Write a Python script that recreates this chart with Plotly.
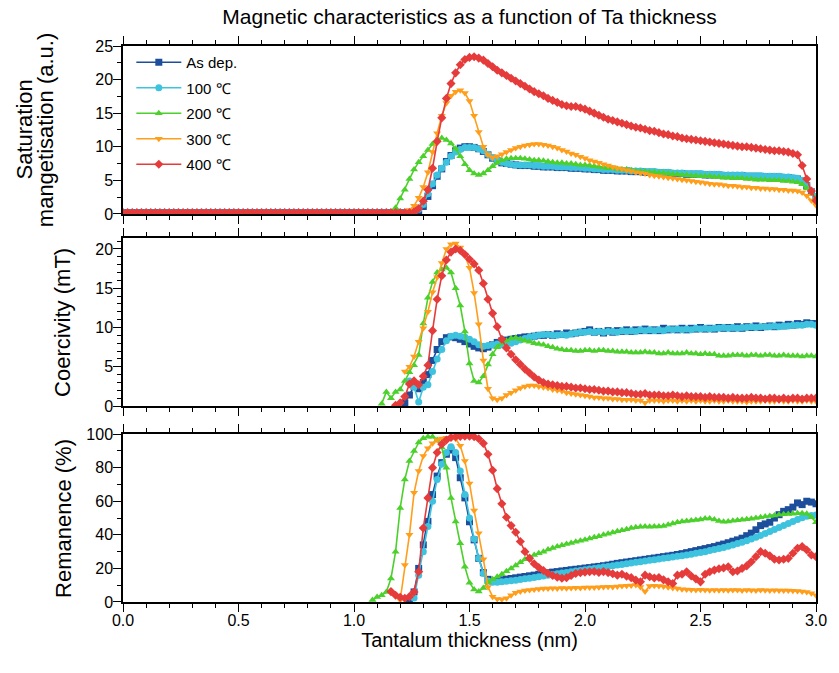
import plotly.graph_objects as go

# ---------------- data ----------------
thickness = [round(0.02 * i, 2) for i in range(151)]  # nm, 0.00 ... 3.00

series_names = ["As dep.", "100 ℃", "200 ℃", "300 ℃", "400 ℃"]
colors = ["#1D4E9B", "#3EC3DF", "#4CD02C", "#FF9E1B", "#E63B3B"]
symbols = ["square", "circle", "triangle-up", "triangle-down", "diamond"]

# Saturation magnetisation (a.u.), 0.00-0.98 nm flat baseline shared by all samples
ms_baseline = [0.2, 0.2, 0.2, 0.2, 0.2, 0.2, 0.2, 0.2, 0.2, 0.2,
               0.2, 0.2, 0.2, 0.2, 0.2, 0.2, 0.2, 0.2, 0.2, 0.2,
               0.2, 0.2, 0.2, 0.2, 0.2, 0.2, 0.2, 0.2, 0.2, 0.2,
               0.2, 0.2, 0.2, 0.2, 0.2, 0.2, 0.2, 0.2, 0.2, 0.2,
               0.2, 0.2, 0.2, 0.2, 0.2, 0.2, 0.2, 0.2, 0.2, 0.2]
# 1.00 ... 3.00 nm
ms_asdep = [0.2, 0.2, 0.2, 0.2, 0.2, 0.2, 0.2, 0.2, 0.2, 0.2,
            0.2, 0.2, 0.2, 0.2, 0.5, 1.1, 2.6, 4.2, 5.6, 6.7,
            7.8, 8.7, 9.4, 9.8, 10.0, 10.0, 9.9, 9.7, 9.3, 8.8,
            8.3, 7.9, 7.6, 7.5, 7.4, 7.3, 7.2, 7.2, 7.2, 7.1,
            7.1, 7.0, 7.0, 7.0, 6.9, 6.9, 6.9, 6.8, 6.8, 6.8,
            6.7, 6.7, 6.6, 6.6, 6.5, 6.5, 6.5, 6.4, 6.4, 6.4,
            6.3, 6.3, 6.3, 6.2, 6.2, 6.2, 6.1, 6.1, 6.1, 6.0,
            6.0, 6.0, 5.9, 5.9, 5.9, 5.9, 5.8, 5.8, 5.8, 5.8,
            5.7, 5.7, 5.7, 5.7, 5.7, 5.6, 5.6, 5.6, 5.6, 5.5,
            5.5, 5.5, 5.5, 5.4, 5.4, 5.3, 5.2, 4.9, 4.2, 3.3,
            2.5]
ms_100 = [0.2, 0.2, 0.2, 0.2, 0.2, 0.2, 0.2, 0.2, 0.2, 0.2,
          0.2, 0.2, 0.2, 0.3, 0.7, 1.4, 3.0, 4.5, 5.8, 6.8,
          7.7, 8.6, 9.2, 9.6, 9.9, 9.9, 9.9, 9.7, 9.4, 8.9,
          8.4, 8.0, 7.7, 7.5, 7.4, 7.3, 7.3, 7.3, 7.3, 7.2,
          7.2, 7.1, 7.1, 7.1, 7.0, 7.0, 7.0, 6.9, 6.9, 6.9,
          6.8, 6.8, 6.7, 6.7, 6.6, 6.6, 6.6, 6.5, 6.5, 6.5,
          6.4, 6.4, 6.4, 6.3, 6.3, 6.3, 6.2, 6.2, 6.2, 6.1,
          6.1, 6.1, 6.0, 6.0, 6.0, 6.0, 5.9, 5.9, 5.9, 5.9,
          5.8, 5.8, 5.8, 5.8, 5.8, 5.7, 5.7, 5.7, 5.7, 5.6,
          5.6, 5.6, 5.6, 5.5, 5.5, 5.4, 5.3, 5.0, 4.3, 3.4,
          2.6]
ms_200 = [0.2, 0.2, 0.2, 0.2, 0.2, 0.2, 0.2, 0.2, 0.3, 0.9,
          2.3, 3.6, 5.2, 6.6, 7.7, 8.6, 9.5, 10.4, 11.0, 11.3,
          11.0, 10.5, 9.7, 8.6, 7.4, 6.5, 6.0, 5.8, 6.0, 6.5,
          7.1, 7.6, 8.0, 8.2, 8.3, 8.3, 8.3, 8.2, 8.1, 8.0,
          8.0, 7.9, 7.8, 7.7, 7.6, 7.6, 7.5, 7.5, 7.4, 7.3,
          7.3, 7.2, 7.1, 7.0, 6.9, 6.8, 6.8, 6.7, 6.6, 6.6,
          6.5, 6.4, 6.3, 6.3, 6.2, 6.2, 6.1, 6.1, 6.0, 5.9,
          5.9, 5.8, 5.8, 5.7, 5.7, 5.6, 5.6, 5.6, 5.5, 5.5,
          5.4, 5.4, 5.3, 5.3, 5.3, 5.2, 5.2, 5.1, 5.1, 5.1,
          5.0, 5.0, 5.0, 4.9, 4.9, 4.8, 4.7, 4.4, 3.8, 3.0,
          2.3]
ms_300 = [0.2, 0.2, 0.2, 0.2, 0.2, 0.2, 0.2, 0.2, 0.2, 0.2,
          0.2, 0.3, 0.6, 1.2, 2.4, 4.0, 6.2, 9.2, 12.0, 14.6,
          16.5, 17.6, 18.2, 18.4, 18.0, 16.8, 14.6, 12.2, 10.0, 8.8,
          8.4, 8.6, 8.9, 9.2, 9.5, 9.8, 10.0, 10.2, 10.3, 10.4,
          10.4, 10.3, 10.2, 10.0, 9.8, 9.5, 9.3, 9.0, 8.8, 8.5,
          8.3, 8.0, 7.8, 7.6, 7.4, 7.2, 7.0, 6.8, 6.7, 6.5,
          6.4, 6.2, 6.1, 6.0, 5.8, 5.7, 5.6, 5.5, 5.4, 5.3,
          5.2, 5.1, 5.0, 4.9, 4.8, 4.7, 4.6, 4.5, 4.4, 4.4,
          4.3, 4.2, 4.2, 4.1, 4.0, 4.0, 3.9, 3.9, 3.8, 3.8,
          3.7, 3.7, 3.6, 3.6, 3.5, 3.5, 3.4, 3.2, 2.7, 2.0,
          1.3]
ms_400 = [0.2, 0.2, 0.2, 0.2, 0.2, 0.2, 0.2, 0.2, 0.2, 0.2,
          0.2, 0.2, 0.2, 0.3, 0.8, 1.9, 3.6, 6.8, 10.8, 14.3,
          17.2, 19.4, 21.0, 22.2, 23.0, 23.3, 23.4, 23.2, 22.9, 22.4,
          21.9, 21.4, 21.0, 20.6, 20.2, 19.8, 19.4, 19.0, 18.6, 18.2,
          17.9, 17.6, 17.2, 16.9, 16.6, 16.3, 16.1, 16.0, 16.0, 15.8,
          15.6, 15.3, 15.0, 14.7, 14.4, 14.1, 13.9, 13.7, 13.5, 13.3,
          13.1, 12.9, 12.8, 12.6, 12.4, 12.3, 12.1, 11.9, 11.8, 11.6,
          11.5, 11.3, 11.2, 11.1, 11.0, 10.9, 10.8, 10.7, 10.6, 10.5,
          10.4, 10.3, 10.2, 10.1, 10.0, 10.0, 9.9, 9.8, 9.7, 9.6,
          9.5, 9.4, 9.4, 9.3, 9.2, 9.0, 8.8, 7.2, 5.2, 3.4,
          2.0]

# Coercivity (mT); each list ends at 3.00 nm
hc_asdep = [0.4, 1.4, 2.5, 2.2, 3.0, 4.0, 5.8, 7.2, 8.2,            # from 1.22
            8.7, 8.8, 8.7, 8.5, 8.2, 7.9, 7.6, 7.4, 7.3, 7.5,
            7.8, 8.1, 8.3, 8.4, 8.5, 8.6, 8.7, 8.8, 8.8, 8.9,
            9.0, 9.0, 9.1, 9.0, 9.2, 9.1, 9.3, 9.2, 9.3, 9.4,
            9.5, 9.7, 9.4, 9.5, 9.3, 9.6, 9.4, 9.6, 9.5, 9.7,
            9.5, 9.7, 9.6, 9.8, 9.6, 9.7, 9.6, 9.9, 9.7, 9.8,
            9.7, 9.9, 9.7, 9.9, 9.8, 10.0, 9.8, 9.9, 9.8, 10.0,
            9.9, 10.0, 9.9, 10.1, 9.9, 10.1, 10.0, 10.2, 10.0, 10.1,
            10.2, 10.1, 10.3, 10.2, 10.4, 10.3, 10.5, 10.4, 10.6, 10.5,
            10.5]
hc_100 = [3.2, 2.4, 0.5, 2.4, 2.7, 4.4, 6.0, 7.2,                     # from 1.24
          8.3, 8.9, 9.0, 8.9, 8.8, 8.5, 8.2, 7.8, 7.6, 7.7,
          7.8, 7.9, 7.8, 7.9, 8.0, 8.2, 8.4, 8.6, 8.8, 8.9,
          9.0, 9.1, 9.1, 9.0, 9.0, 9.1, 9.0, 9.2, 9.3, 9.4,
          9.4, 9.5, 9.4, 9.5, 9.4, 9.5, 9.5, 9.4, 9.6, 9.5,
          9.6, 9.5, 9.7, 9.6, 9.7, 9.6, 9.7, 9.6, 9.8, 9.7,
          9.8, 9.7, 9.8, 9.7, 9.9, 9.8, 9.9, 9.8, 9.9, 9.9,
          10.0, 9.9, 10.0, 9.9, 10.0, 10.0, 10.1, 10.0, 10.1, 10.1,
          10.1, 10.2, 10.1, 10.2, 10.2, 10.3, 10.3, 10.3, 10.4, 10.4,
          10.3]
hc_200 = [0.3, 1.8, 1.0, 1.8,                                         # from 1.12
          2.1, 3.2, 4.3, 5.2, 6.5, 10.5, 13.8, 15.8, 17.0, 17.4,
          17.6, 17.0, 15.0, 12.8, 9.5, 5.4, 3.2, 3.0, 3.8, 5.3,
          6.6, 7.5, 8.0, 8.3, 8.6, 8.7, 8.5, 8.3, 8.2, 8.0,
          7.9, 7.8, 7.6, 7.5, 7.3, 7.2, 7.1, 7.1, 7.0, 7.0,
          7.1, 7.1, 7.0, 7.1, 7.1, 7.0, 7.0, 6.9, 6.9, 6.9,
          6.8, 6.8, 6.8, 6.9, 6.8, 6.8, 6.7, 6.7, 6.8, 6.7,
          6.7, 6.7, 6.8, 6.7, 6.7, 6.6, 6.7, 6.6, 6.6, 6.4,
          6.4, 6.4, 6.5, 6.5, 6.5, 6.4, 6.5, 6.5, 6.4, 6.5,
          6.5, 6.4, 6.4, 6.5, 6.4, 6.4, 6.4, 6.3, 6.4, 6.4,
          6.3]
hc_300 = [4.4, 5.0, 6.3, 8.2, 9.9, 12.0, 14.5, 16.4, 18.2,           # from 1.22
          20.0, 20.6, 20.7, 20.2, 19.2, 17.6, 14.4, 10.4, 5.8, 2.2,
          1.0, 0.8, 1.0, 1.4, 1.7, 2.0, 2.3, 2.5, 2.6, 2.6,
          2.5, 2.4, 2.3, 2.1, 2.0, 1.9, 1.7, 1.6, 1.5, 1.4,
          1.3, 1.2, 1.1, 1.1, 1.0, 1.0, 0.9, 0.9, 0.8, 0.8,
          0.8, 0.7, 0.7, 0.4, 0.7, 0.7, 0.7, 0.6, 0.7, 0.7,
          0.6, 0.7, 0.6, 0.7, 0.6, 0.7, 0.6, 0.6, 0.7, 0.6,
          0.6, 0.7, 0.6, 0.6, 0.6, 0.5, 0.6, 0.6, 0.6, 0.7,
          0.6, 0.6, 0.7, 0.6, 0.6, 0.7, 0.6, 0.6, 0.7, 0.6,
          0.6]
hc_400 = [0.1,                                                        # from 1.18
          0.4, 1.2, 2.8, 3.2, 2.7, 3.8, 5.2, 9.6, 13.6, 16.6,
          18.6, 19.6, 20.0, 19.8, 19.3, 18.7, 18.1, 17.3, 15.6, 13.6,
          11.8, 10.1, 8.5, 7.4, 6.6, 5.9, 5.3, 4.7, 4.2, 3.7,
          3.3, 3.0, 2.8, 2.7, 2.6, 2.5, 2.5, 2.4, 2.3, 2.3,
          2.2, 2.1, 2.1, 2.0, 1.9, 1.9, 1.8, 1.8, 1.7, 1.7,
          1.6, 1.5, 1.5, 1.6, 1.4, 1.4, 1.4, 1.3, 1.3, 1.4,
          1.3, 1.2, 1.3, 1.2, 1.2, 1.2, 1.1, 1.2, 1.1, 1.1,
          1.1, 1.0, 1.1, 1.0, 1.0, 1.0, 1.1, 1.0, 1.0, 0.9,
          1.0, 1.0, 0.9, 1.0, 0.9, 1.0, 1.0, 0.9, 1.0, 1.0,
          1.0]

# Remanence (%); each list ends at 3.00 nm
mr_asdep = [1.0, 6.0, 20.0, 34.0, 48.0, 64.0, 75.0, 83.0,             # from 1.24
            88.0, 90.5, 86.0, 74.0, 62.0, 47.8, 37.0, 26.0, 17.5, 13.5,
            12.5, 12.8, 13.2, 13.6, 14.0, 14.4, 14.8, 15.2, 15.6, 16.0,
            16.5, 17.0, 17.4, 17.8, 18.1, 18.5, 18.8, 19.2, 19.5, 19.8,
            20.2, 20.5, 20.9, 21.2, 21.6, 22.0, 22.5, 23.0, 23.4, 23.8,
            24.2, 24.6, 25.0, 25.4, 25.8, 26.2, 26.6, 27.0, 27.4, 27.8,
            28.3, 28.8, 29.4, 30.0, 30.6, 31.2, 31.8, 32.4, 33.0, 33.8,
            34.5, 35.3, 36.2, 37.0, 38.0, 39.5, 41.0, 43.0, 45.5, 46.5,
            47.5, 50.0, 52.0, 54.0, 55.0, 56.5, 59.0, 58.0, 60.0, 59.5,
            58.5]
mr_100 = [2.4, 16.0, 30.0, 45.0, 60.0, 73.0, 82.0,                    # from 1.26
          89.0, 92.5, 89.0, 78.0, 64.0, 50.0, 37.5, 26.0, 17.0, 12.5,
          11.8, 11.8, 12.0, 12.3, 12.6, 13.0, 13.4, 13.8, 14.2, 14.6,
          15.0, 15.5, 16.0, 16.4, 16.8, 17.2, 17.6, 18.0, 18.4, 18.8,
          19.2, 19.6, 20.0, 20.4, 20.8, 21.2, 21.6, 22.0, 22.4, 22.8,
          23.2, 23.6, 24.0, 24.4, 24.8, 25.2, 25.6, 26.0, 26.4, 26.8,
          27.2, 27.6, 28.0, 28.5, 29.0, 29.5, 30.0, 30.6, 31.2, 31.8,
          32.5, 33.2, 34.0, 34.8, 35.6, 36.5, 37.5, 38.5, 39.6, 40.8,
          42.0, 43.2, 44.4, 45.6, 46.8, 48.0, 49.2, 50.2, 51.0, 51.5,
          51.8]
mr_200 = [1.2, 3.0, 4.0, 6.0, 14.0, 30.0,                             # from 1.08
          56.0, 73.0, 84.0, 90.0, 95.0, 97.5, 98.4, 98.4, 96.5, 92.0,
          80.0, 62.0, 48.0, 35.0, 21.0, 11.5, 7.5, 6.3, 8.3, 11.8,
          13.6, 15.0, 16.6, 18.3, 20.0, 21.8, 23.6, 25.4, 26.8, 28.0,
          29.0, 30.0, 31.2, 32.2, 33.0, 33.8, 34.5, 35.2, 35.9, 36.5,
          37.1, 37.8, 38.5, 39.2, 40.0, 40.7, 41.4, 42.1, 42.8, 43.4,
          44.0, 44.5, 44.8, 44.9, 44.8, 44.9, 45.0, 45.3, 46.0, 46.8,
          47.5, 47.9, 48.3, 48.5, 48.8, 49.2, 49.8, 49.7, 49.2, 48.3,
          47.8, 48.0, 48.4, 48.7, 49.0, 49.3, 49.6, 50.0, 50.5, 50.9,
          51.2, 51.5, 51.9, 52.2, 52.4, 52.6, 52.8, 52.9, 52.5, 50.5,
          47.5]
mr_300 = [1.2, 22.0, 40.0, 65.0, 78.0, 87.0, 91.5, 94.5, 96.5, 97.4,  # from 1.20
          97.8, 97.8, 97.2, 93.0, 84.0, 70.6, 54.5, 41.0, 25.5, 9.0,
          3.2, 1.8, 1.6, 2.2, 4.0, 5.5, 6.3, 6.9, 7.2, 7.5,
          7.8, 8.0, 8.0, 8.2, 8.1, 8.3, 8.2, 8.4, 8.5, 8.4,
          8.6, 8.7, 8.6, 8.8, 8.9, 9.1, 9.0, 9.3, 9.5, 9.7,
          9.9, 10.1, 9.0, 6.2, 9.6, 9.7, 9.5, 9.2, 8.8, 8.4,
          8.0, 7.6, 7.4, 7.3, 7.2, 7.3, 7.1, 7.0, 7.2, 7.0,
          7.1, 7.0, 7.2, 7.1, 6.9, 7.1, 7.0, 6.9, 7.1, 7.0,
          6.9, 7.0, 6.8, 6.9, 6.8, 6.7, 6.5, 6.3, 6.0, 5.2,
          4.0]
mr_400 = [6.2, 4.0,                                                   # from 1.16
          2.8, 2.2, 3.2, 6.0, 18.0, 44.0, 62.0, 80.0, 89.0, 94.0,
          96.5, 98.0, 98.4, 98.6, 98.8, 98.7, 98.4, 97.2, 94.5, 88.0,
          78.5, 67.5, 58.5, 50.5, 45.5, 41.5, 36.0, 30.0, 26.0, 22.8,
          20.5, 18.8, 17.0, 15.8, 14.8, 14.2, 14.5, 15.8, 17.0, 17.4,
          17.8, 18.0, 18.2, 17.6, 18.1, 17.5, 16.8, 16.0, 16.5, 15.3,
          14.5, 13.0, 12.0, 16.0, 15.0, 14.3, 14.6, 13.2, 12.0, 11.0,
          16.0, 16.5, 18.0, 15.5, 13.8, 12.0, 16.5, 18.0, 19.0, 19.8,
          20.3, 21.0, 18.0, 18.5, 20.0, 21.5, 24.0, 27.0, 30.0, 29.0,
          27.5, 25.5, 25.0, 25.5, 26.0, 29.0, 32.0, 33.0, 31.0, 28.0,
          27.0]

ms_series = [ms_baseline + ms_asdep, ms_baseline + ms_100, ms_baseline + ms_200,
             ms_baseline + ms_300, ms_baseline + ms_400]
hc_series = [hc_asdep, hc_100, hc_200, hc_300, hc_400]
mr_series = [mr_asdep, mr_100, mr_200, mr_300, mr_400]

# ---------------- figure ----------------
FONT = "Liberation Sans, Arial, Helvetica, sans-serif"
fig = go.Figure()


def tail_x(vals):
    return thickness[len(thickness) - len(vals):]


panels = [(ms_series, "x", "y", True), (hc_series, "x2", "y2", False), (mr_series, "x3", "y3", False)]
for data, xa, ya, legend in panels:
    for i, vals in enumerate(data):
        fig.add_trace(go.Scatter(
            x=tail_x(vals), y=vals, xaxis=xa, yaxis=ya,
            mode="lines+markers", name=series_names[i],
            legendgroup=series_names[i], showlegend=legend,
            line=dict(color=colors[i], width=1.6),
            marker=dict(symbol=symbols[i], size=7, color=colors[i], line=dict(width=0)),
        ))

ax_common = dict(showline=True, linecolor="black", linewidth=1.5, showgrid=False,
                 zeroline=False, ticks="outside", ticklen=8, tickwidth=1.3, tickcolor="black",
                 tickfont=dict(family=FONT, size=16, color="black"))

x_common = dict(ax_common, range=[0, 3.0], dtick=0.5, tick0=0, mirror="allticks",
                minor=dict(dtick=0.1, ticklen=4, tickwidth=1.3, tickcolor="black", ticks="outside"))

dom_top = [0.698, 1.0]
dom_mid = [0.3525, 0.6547]
dom_bot = [0.0, 0.302]

y_specs = [
    (dom_top, [0, 25], 5, 2.5),
    (dom_mid, [0, 21.4], 5, 1),
    (dom_bot, [0, 100], 20, 10),
]

layout = dict(
    width=839, height=673,
    margin=dict(l=123, r=12, t=46, b=71),
    paper_bgcolor="white", plot_bgcolor="white",
    font=dict(family=FONT, color="black"),
    title=dict(text="Magnetic characteristics as a function of Ta thickness",
               x=0.5, xref="paper", xanchor="center",
               y=1 - 17 / 673, yref="container", yanchor="middle",
               font=dict(family=FONT, size=21, color="black")),
    showlegend=True,
    legend=dict(x=0.012, y=1.0, xanchor="left", yanchor="top",
                bgcolor="rgba(0,0,0,0)", font=dict(family=FONT, size=15, color="black"),
                itemwidth=45, tracegroupgap=3, traceorder="grouped"),
    xaxis=dict(x_common, anchor="y", showticklabels=False),
    xaxis2=dict(x_common, anchor="y2", showticklabels=False),
    xaxis3=dict(x_common, anchor="y3", showticklabels=True, tickformat=".1f",
                ticklabelstandoff=-5,
                title=dict(text="Tantalum thickness (nm)", standoff=4,
                           font=dict(family=FONT, size=20, color="black"))),
)

xnames = ["x", "x2", "x3"]
for k, (dom, rng, dt, mdt) in enumerate(y_specs):
    yname = "yaxis" if k == 0 else f"yaxis{k + 1}"
    layout[yname] = dict(ax_common, domain=dom, range=rng, dtick=dt, tick0=0,
                         anchor=xnames[k], mirror=True, ticklabelstandoff=-3,
                         minor=dict(dtick=mdt, ticklen=4, tickwidth=1.3, tickcolor="black",
                                    ticks="outside"))
    # right-hand axis with inward ticks
    layout[f"yaxis{k + 4}"] = dict(
        overlaying="y" if k == 0 else f"y{k + 1}", side="right", anchor=xnames[k],
        range=rng, dtick=dt, tick0=0, showticklabels=False, showgrid=False, zeroline=False,
        showline=False, ticks="inside", ticklen=8, tickwidth=1.3, tickcolor="black",
        minor=dict(dtick=mdt, ticklen=4, tickwidth=1.3, tickcolor="black", ticks="inside"))

fig.update_layout(**layout)

# y-axis titles (positioned like the reference)
def px_to_paper_x(px):
    return (px - 123) / 704.0

title_font = dict(family=FONT, size=22, color="black")
ann = [
    ("Saturation", 23, sum(dom_top) / 2),
    ("mangetisation (a.u.)", 45, sum(dom_top) / 2),
    ("Coercivity (mT)", 62, sum(dom_mid) / 2),
    ("Remanence (%)", 62, sum(dom_bot) / 2),
]
for text, px, yc in ann:
    fig.add_annotation(text=text, xref="paper", yref="paper", x=px_to_paper_x(px), y=yc,
                       xanchor="center", yanchor="middle", textangle=-90,
                       showarrow=False, font=title_font)

fig.write_html("out.html")
